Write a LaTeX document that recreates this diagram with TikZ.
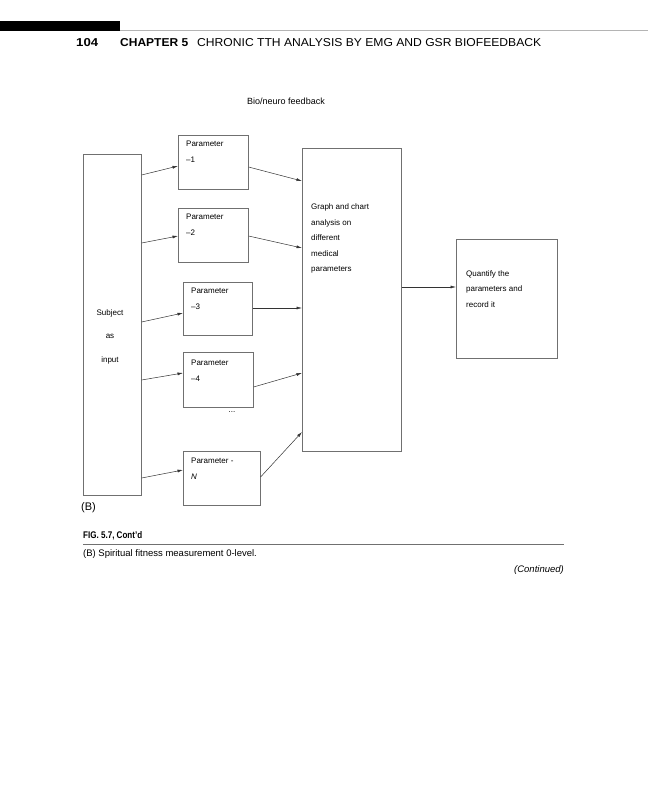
\documentclass[tikz,border=0pt]{standalone}
\usepackage{fontspec}
\setmainfont{Liberation Sans}
\usepackage{graphicx}
\usetikzlibrary{arrows.meta}
\definecolor{boxgray}{HTML}{707070}
\definecolor{rulegray}{HTML}{B4B4B4}
\definecolor{arrgray}{HTML}{333333}

\begin{document}
\begin{tikzpicture}[x=1pt,y=-1pt,
  box/.style={draw=boxgray,line width=0.6pt,anchor=north west,inner sep=0pt},
  txt/.style={anchor=north west,inner sep=0pt,align=left,font=\fontsize{8}{16}\selectfont},
  arr/.style={-{Latex[length=5.5pt,width=3pt]},draw=arrgray,line width=0.5pt}]
\useasboundingbox (0,0) rectangle (648,800);
\fill (0,21) rectangle (120,31);
\draw[rulegray,line width=1.3pt] (120,30.5) -- (648,30.5);
\node[anchor=base west,inner sep=0pt] (page) at (76,47) {\resizebox{22pt}{8pt}{\bfseries 104}};
\node[anchor=base west,inner sep=0pt] (chap) at (120,47) {\resizebox{68pt}{8pt}{\bfseries CHAPTER 5}};
\node[anchor=base west,inner sep=0pt] (title) at (197,47) {\resizebox{344pt}{8pt}{CHRONIC TTH ANALYSIS BY EMG AND GSR BIOFEEDBACK}};

\node[inner sep=0pt,font=\fontsize{9}{11}\selectfont] (bio) at (286,101) {Bio/neuro feedback};

\node[box,minimum width=58pt,minimum height=341pt] (subj) at (83,154) {};
\node[inner sep=0pt,anchor=north,align=center,font=\fontsize{8}{23.5}\selectfont] (subjt) at (110,309) {Subject\\as\\input};

\node[box,minimum width=70pt,minimum height=54pt] (p1) at (178,135) {};
\node[txt] (p1t) at (186,141) {Parameter\\–1};
\node[box,minimum width=70pt,minimum height=54pt] (p2) at (178,208) {};
\node[txt] (p2t) at (186,214) {Parameter\\–2};
\node[box,minimum width=69pt,minimum height=53pt] (p3) at (183,282) {};
\node[txt] (p3t) at (191,288) {Parameter\\–3};
\node[box,minimum width=70pt,minimum height=55pt] (p4) at (183,352) {};
\node[txt] (p4t) at (191,360) {Parameter\\–4};
\node[inner sep=0pt,font=\fontsize{8}{10}\selectfont] (dots) at (232,412) {...};
\node[box,minimum width=77pt,minimum height=54pt] (pN) at (183,451) {};
\node[txt] (pNt) at (191,458) {Parameter -\\\textit{N}};

\node[box,minimum width=99pt,minimum height=303pt] (graph) at (302,148) {};
\node[txt,font=\fontsize{8}{15.5}\selectfont] (grapht) at (311,204) {Graph and chart\\analysis on\\different\\medical\\parameters};

\node[box,minimum width=101pt,minimum height=119pt] (quant) at (456,239) {};
\node[txt,font=\fontsize{8}{15.5}\selectfont] (quantt) at (466,270) {Quantify the\\parameters and\\record it};

\draw[arr] ([yshift=-21pt]subj.north east) -- ([yshift=-31pt]p1.north west);
\draw[arr] ([yshift=-89pt]subj.north east) -- ([yshift=-28pt]p2.north west);
\draw[arr] ([yshift=-168pt]subj.north east) -- ([yshift=-31pt]p3.north west);
\draw[arr] ([yshift=-226pt]subj.north east) -- ([yshift=-21pt]p4.north west);
\draw[arr] ([yshift=-324pt]subj.north east) -- ([yshift=-19pt]pN.north west);

\draw[arr] ([yshift=-32pt]p1.north east) -- ([yshift=-33pt]graph.north west);
\draw[arr] ([yshift=-28pt]p2.north east) -- ([yshift=-100pt]graph.north west);
\draw[arr] ([yshift=-26pt]p3.north east) -- ([yshift=-160pt]graph.north west);
\draw[arr] ([yshift=-35pt]p4.north east) -- ([yshift=-225pt]graph.north west);
\draw[arr] ([yshift=-26pt]pN.north east) -- ([yshift=-284pt]graph.north west);

\draw[arr] ([yshift=-139pt]graph.north east) -- ([yshift=-48pt]quant.north west);

\node[anchor=west,inner sep=0pt,font=\fontsize{11}{13}\selectfont] (lbl) at (81,508) {(B)};

\node[anchor=base west,inner sep=0pt] (fig) at (83,538) {\resizebox{59pt}{7pt}{\bfseries FIG. 5.7, Cont’d}};
\draw[boxgray,line width=0.6pt] (83,544) -- (564,544);
\node[anchor=base west,inner sep=0pt,font=\fontsize{9.5}{11}\selectfont] (cap) at (83,556) {(B) Spiritual fitness measurement 0-level.};
\node[anchor=base east,inner sep=0pt,font=\fontsize{9.5}{11}\selectfont\itshape] (cont) at (564,572) {(Continued)};
\end{tikzpicture}
\end{document}
